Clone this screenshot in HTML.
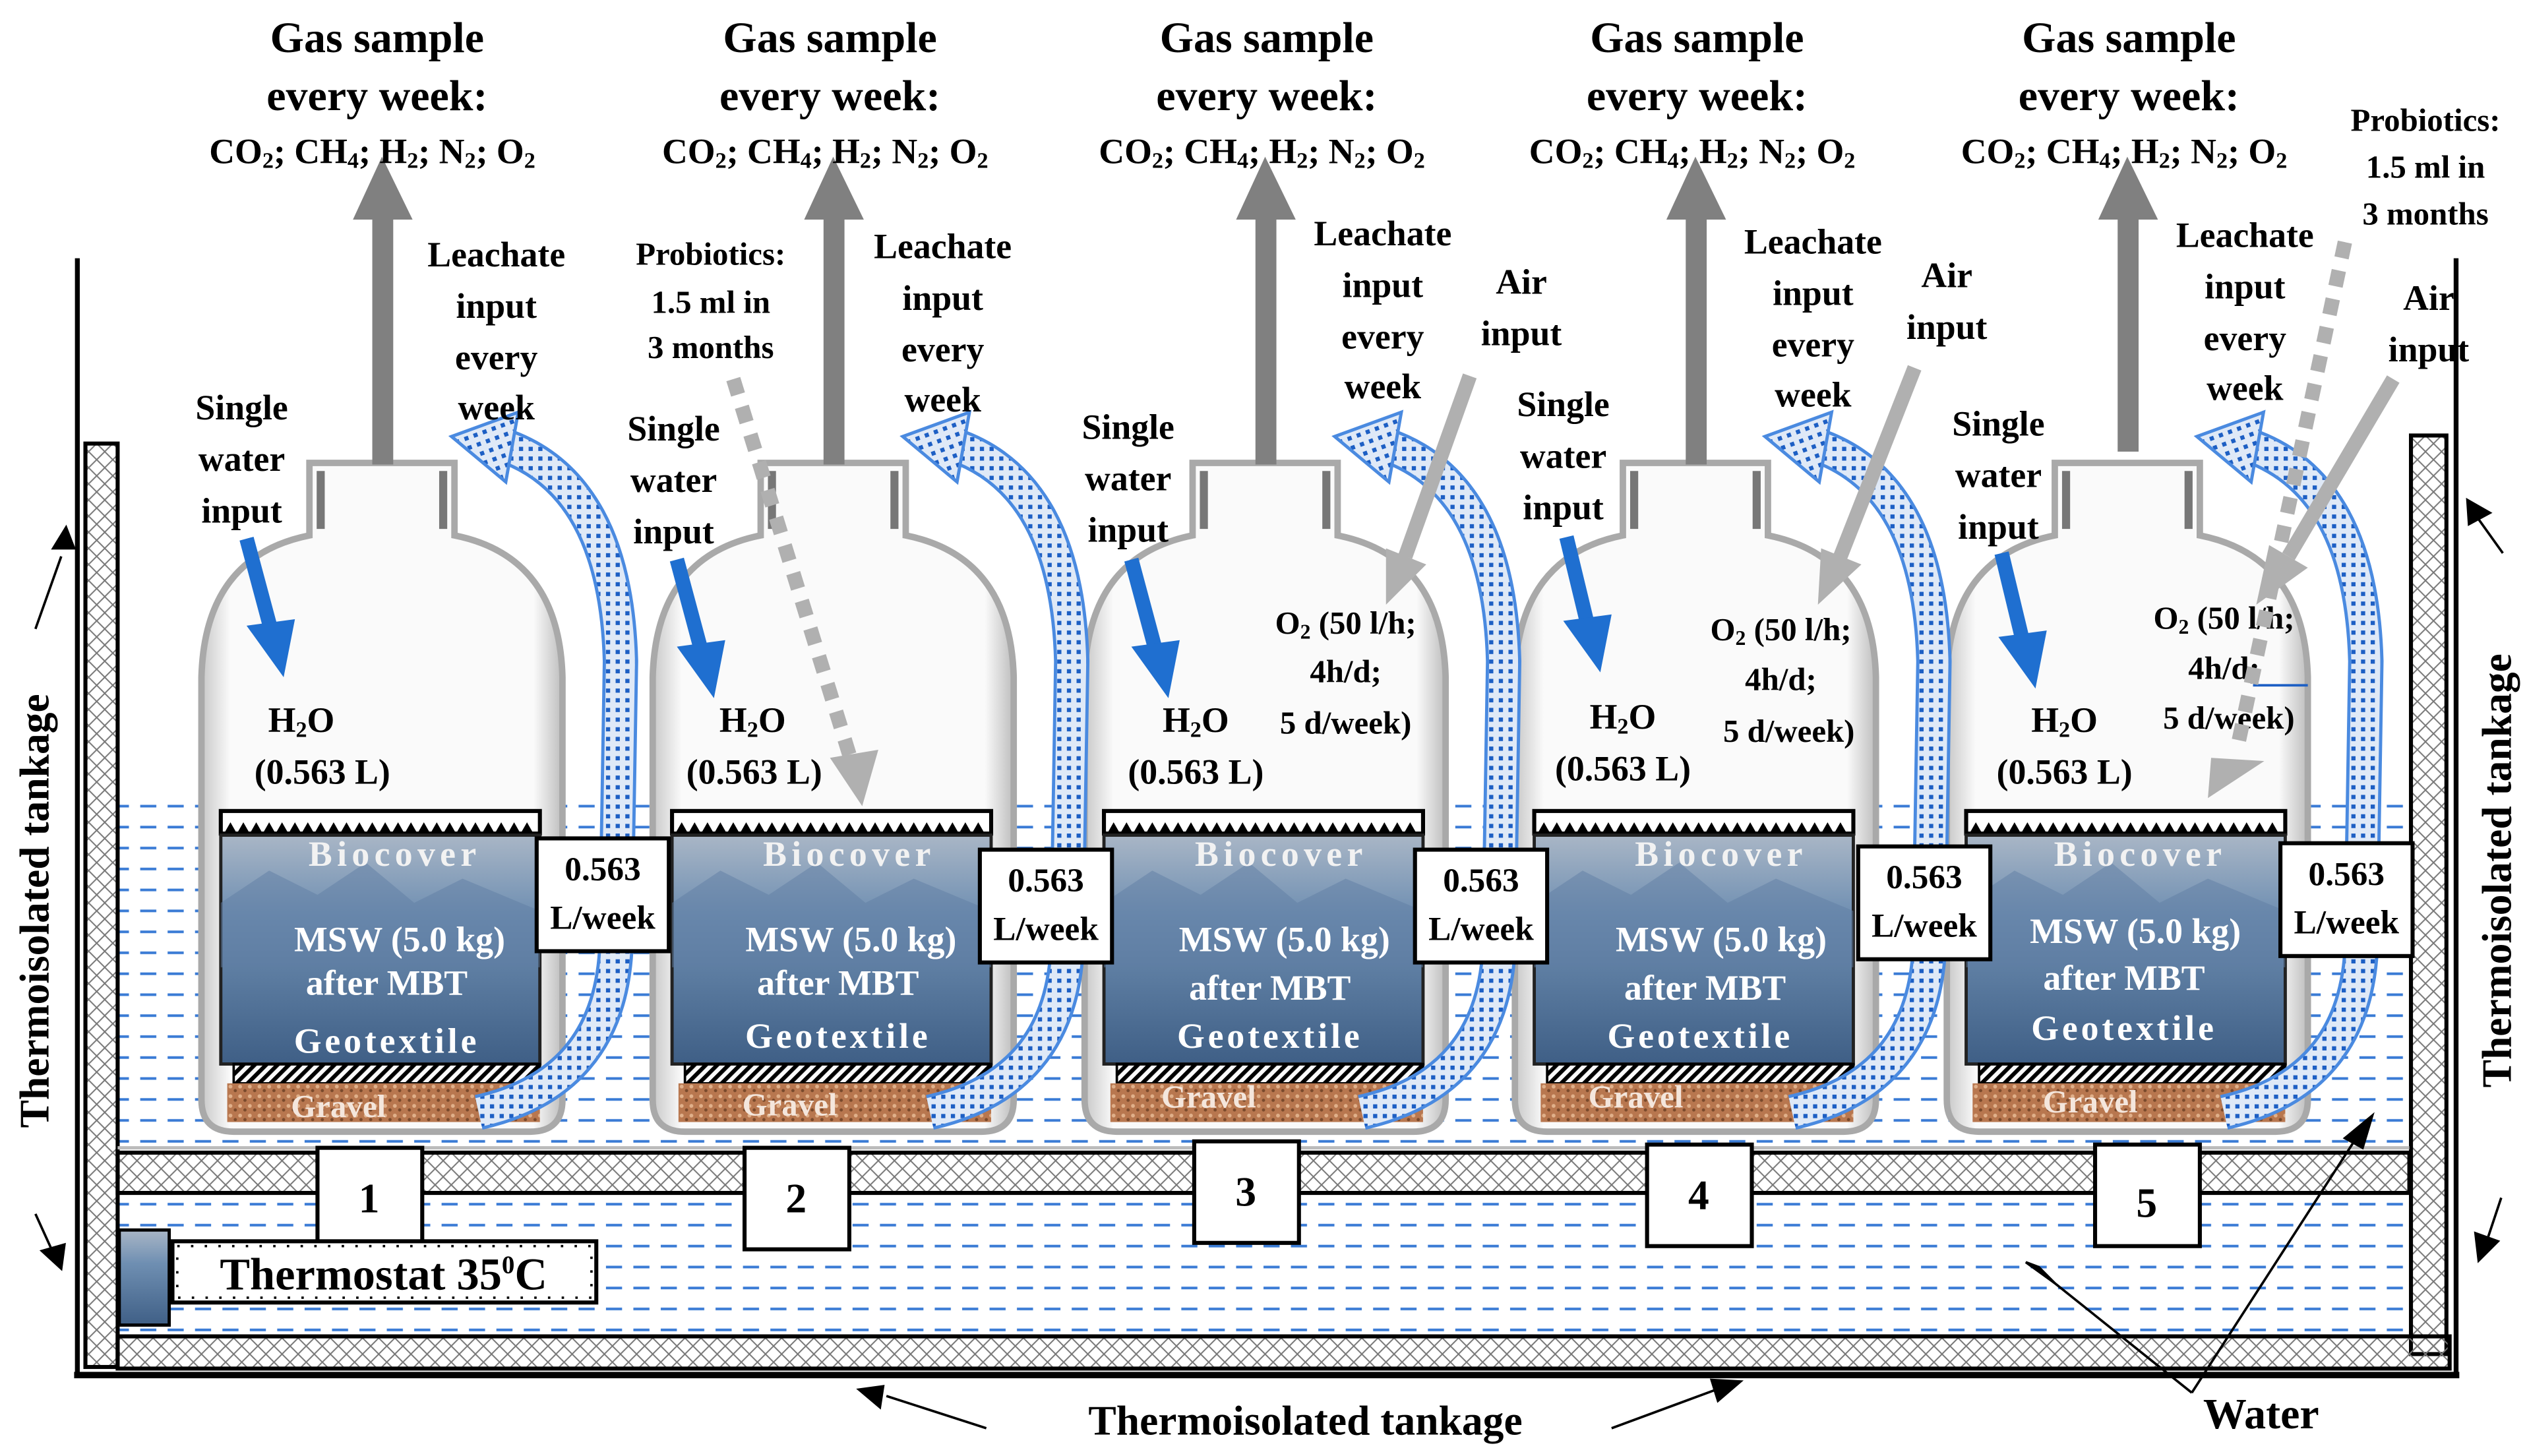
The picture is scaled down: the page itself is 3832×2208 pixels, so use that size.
<!DOCTYPE html>
<html><head><meta charset="utf-8"><style>
html,body{margin:0;padding:0;background:#fff;}
svg{display:block;}
text{font-family:"Liberation Serif",serif;font-weight:bold;fill:#000;}
</style></head><body>
<svg width="3832" height="2208" viewBox="0 0 1568 903" xmlns="http://www.w3.org/2000/svg">
<defs>
<pattern id="wat" width="17" height="13" patternUnits="userSpaceOnUse">
<line x1="2" y1="6" x2="12" y2="6" stroke="#3a7bd5" stroke-width="1.6"/>
</pattern>
<pattern id="hat" width="10" height="10" patternUnits="userSpaceOnUse">
<path d="M0,5 L5,0 L10,5 M0,5 L5,10 L10,5" stroke="#777" stroke-width="0.8" fill="none"/>
</pattern>
<pattern id="stripe" width="5" height="5" patternUnits="userSpaceOnUse" patternTransform="rotate(45)">
<rect width="2.5" height="5" fill="#000"/>
</pattern>
<pattern id="dots" width="6" height="6" patternUnits="userSpaceOnUse">
<rect width="6" height="6" fill="#dfe9f7"/><rect x="1" y="1" width="2.6" height="2.6" fill="#1d5fc4"/>
</pattern>
<pattern id="grav" width="6" height="6" patternUnits="userSpaceOnUse">
<rect width="6" height="6" fill="#b8774f"/><circle cx="2" cy="2" r="1.2" fill="#e0b08a"/><circle cx="5" cy="4.5" r="1" fill="#7a4a2c"/>
</pattern>
<linearGradient id="pan" x1="0" y1="0" x2="0" y2="1">
<stop offset="0" stop-color="#a9b6c6"/><stop offset="0.35" stop-color="#6f8fb2"/><stop offset="1" stop-color="#3f5f86"/>
</linearGradient>
<linearGradient id="glass" x1="0" y1="0" x2="1" y2="0">
<stop offset="0" stop-color="#c8c8c8"/><stop offset="0.08" stop-color="#fafafa"/><stop offset="0.92" stop-color="#fafafa"/><stop offset="1" stop-color="#bdbdbd"/>
</linearGradient>
<g id="bottle">
<path d="M-45,287 L45,287 L45,332 Q110,345 112,420 L112,682 Q112,702 92,702 L-92,702 Q-112,702 -112,682 L-112,420 Q-110,345 -45,332 Z" fill="url(#glass)" stroke="#a9a9a9" stroke-width="4"/>
<path d="M-38,292 L-38,328 M38,292 L38,328" stroke="#777" stroke-width="5"/>
<rect x="-100" y="503" width="198" height="14" fill="#fff" stroke="#000" stroke-width="2.5"/>
<path d="M-98,517 l4,-7 l4,7 l4,-7 l4,7 l4,-7 l4,7 l4,-7 l4,7 l4,-7 l4,7 l4,-7 l4,7 l4,-7 l4,7 l4,-7 l4,7 l4,-7 l4,7 l4,-7 l4,7 l4,-7 l4,7 l4,-7 l4,7 l4,-7 l4,7 l4,-7 l4,7 l4,-7 l4,7 l4,-7 l4,7 l4,-7 l4,7 l4,-7 l4,7 l4,-7 l4,7 l4,-7 l4,7 l4,-7 l4,7 l4,-7 l4,7 l4,-7 l4,7 l4,-7 l4,7" fill="#000"/>
<rect x="-100" y="518" width="198" height="142" fill="url(#pan)" stroke="#222" stroke-width="2"/>
<path d="M-100,560 L-70,540 L-40,555 L-10,535 L20,560 L50,545 L98,565 L98,600 L-100,600 Z" fill="#5f7ea3" opacity="0.5"/>
<rect x="-92" y="660" width="190" height="12" fill="url(#stripe)" stroke="#000" stroke-width="1.5"/>
<rect x="-96" y="672" width="194" height="24" fill="url(#grav)"/>
</g>
<g id="leach">
<path d="M60,690 Q140,672 145,590 L148,410 Q145,300 75,276" fill="none" stroke="#4a8ae0" stroke-width="22"/>
<path d="M60,690 Q140,672 145,590 L148,410 Q145,300 75,276" fill="none" stroke="url(#dots)" stroke-width="18"/>
<polygon points="48,262 92,262 70,300" fill="url(#dots)" stroke="#4a8ae0" stroke-width="2" transform="rotate(-20 70 280)"/>
</g>
</defs>

<!-- tank -->
<line x1="48" y1="160" x2="48" y2="854" stroke="#000" stroke-width="3"/>
<line x1="1524" y1="160" x2="1524" y2="854" stroke="#000" stroke-width="3"/>
<line x1="46" y1="853" x2="1526" y2="853" stroke="#000" stroke-width="4"/>
<rect x="73" y="495" width="1422" height="220" fill="url(#wat)"/>
<rect x="73" y="742" width="1422" height="85" fill="url(#wat)"/>
<rect x="53" y="275" width="20" height="573" fill="url(#hat)" stroke="#000" stroke-width="2.5"/>
<rect x="1496" y="270" width="22" height="570" fill="url(#hat)" stroke="#000" stroke-width="2.5"/>
<rect x="73" y="829" width="1447" height="20" fill="url(#hat)" stroke="#000" stroke-width="2.5"/>
<rect x="73" y="715" width="1422" height="25" fill="url(#hat)" stroke="#000" stroke-width="2.5"/>
<line x1="73" y1="712" x2="1495" y2="712" stroke="#bbb" stroke-width="2"/>

<!-- bottles -->
<use href="#bottle" x="237" y="0"/>
<use href="#bottle" x="517" y="0"/>
<use href="#bottle" x="785" y="0"/>
<use href="#bottle" x="1052" y="0"/>
<use href="#bottle" x="1320" y="0"/>
<use href="#leach" x="237"/>
<use href="#leach" x="517"/>
<use href="#leach" x="785"/>
<use href="#leach" x="1052"/>
<use href="#leach" x="1320"/>

<!-- panel texts -->
<g font-size="22" fill="#fff" text-anchor="middle" style="fill:#fff">
<text x="245" y="537" style="fill:#f2f2f2;letter-spacing:3px">Biocover</text>
<text x="248" y="590" style="fill:#fff">MSW (5.0 kg)</text>
<text x="240" y="617" style="fill:#fff">after MBT</text>
<text x="240" y="653" style="fill:#fff;letter-spacing:2px">Geotextile</text>
<text x="210" y="693" font-size="20" style="fill:#f4e6dc">Gravel</text>
<text x="527" y="537" style="fill:#f2f2f2;letter-spacing:3px">Biocover</text>
<text x="528" y="590" style="fill:#fff">MSW (5.0 kg)</text>
<text x="520" y="617" style="fill:#fff">after MBT</text>
<text x="520" y="650" style="fill:#fff;letter-spacing:2px">Geotextile</text>
<text x="490" y="692" font-size="20" style="fill:#f4e6dc">Gravel</text>
<text x="795" y="537" style="fill:#f2f2f2;letter-spacing:3px">Biocover</text>
<text x="797" y="590" style="fill:#fff">MSW (5.0 kg)</text>
<text x="788" y="620" style="fill:#fff">after MBT</text>
<text x="788" y="650" style="fill:#fff;letter-spacing:2px">Geotextile</text>
<text x="750" y="687" font-size="20" style="fill:#f4e6dc">Gravel</text>
<text x="1068" y="537" style="fill:#f2f2f2;letter-spacing:3px">Biocover</text>
<text x="1068" y="590" style="fill:#fff">MSW (5.0 kg)</text>
<text x="1058" y="620" style="fill:#fff">after MBT</text>
<text x="1055" y="650" style="fill:#fff;letter-spacing:2px">Geotextile</text>
<text x="1015" y="687" font-size="20" style="fill:#f4e6dc">Gravel</text>
<text x="1328" y="537" style="fill:#f2f2f2;letter-spacing:3px">Biocover</text>
<text x="1325" y="585" style="fill:#fff">MSW (5.0 kg)</text>
<text x="1318" y="614" style="fill:#fff">after MBT</text>
<text x="1318" y="645" style="fill:#fff;letter-spacing:2px">Geotextile</text>
<text x="1297" y="690" font-size="20" style="fill:#f4e6dc">Gravel</text>
</g>

<!-- L/week boxes -->
<g font-size="21" text-anchor="middle">
<rect x="333" y="520" width="82" height="70" fill="#fff" stroke="#000" stroke-width="2.5"/>
<text x="374" y="546">0.563</text><text x="374" y="576">L/week</text>
<rect x="608" y="527" width="82" height="70" fill="#fff" stroke="#000" stroke-width="2.5"/>
<text x="649" y="553">0.563</text><text x="649" y="583">L/week</text>
<rect x="878" y="527" width="82" height="70" fill="#fff" stroke="#000" stroke-width="2.5"/>
<text x="919" y="553">0.563</text><text x="919" y="583">L/week</text>
<rect x="1153" y="525" width="82" height="70" fill="#fff" stroke="#000" stroke-width="2.5"/>
<text x="1194" y="551">0.563</text><text x="1194" y="581">L/week</text>
<rect x="1415" y="523" width="82" height="70" fill="#fff" stroke="#000" stroke-width="2.5"/>
<text x="1456" y="549">0.563</text><text x="1456" y="579">L/week</text>
</g>

<!-- number boxes -->
<g font-size="26" text-anchor="middle">
<rect x="197" y="712" width="65" height="63" fill="#fff" stroke="#000" stroke-width="2.5"/><text x="229" y="752">1</text>
<rect x="462" y="712" width="65" height="63" fill="#fff" stroke="#000" stroke-width="2.5"/><text x="494" y="752">2</text>
<rect x="741" y="708" width="65" height="63" fill="#fff" stroke="#000" stroke-width="2.5"/><text x="773" y="748">3</text>
<rect x="1022" y="710" width="65" height="63" fill="#fff" stroke="#000" stroke-width="2.5"/><text x="1054" y="750">4</text>
<rect x="1300" y="710" width="65" height="63" fill="#fff" stroke="#000" stroke-width="2.5"/><text x="1332" y="755">5</text>
</g>

<!-- thermostat -->
<rect x="74" y="763" width="31" height="59" fill="url(#pan)" stroke="#000" stroke-width="2"/>
<rect x="107" y="770" width="263" height="38" fill="#fff" stroke="#000" stroke-width="2.5"/>
<rect x="110" y="773" width="257" height="32" fill="none" stroke="#000" stroke-width="1.5" stroke-dasharray="1.5 7"/>
<text x="238" y="800" font-size="28" text-anchor="middle">Thermostat 35<tspan font-size="16" dy="-10">0</tspan><tspan dy="10">C</tspan></text>

<!-- gas arrows and text -->
<g fill="#808080">
<rect x="231" y="130" width="13" height="158"/><polygon points="219,136 256,136 237,97"/>
<rect x="511" y="130" width="13" height="158"/><polygon points="499,136 536,136 517,97"/>
<rect x="779" y="130" width="13" height="158"/><polygon points="767,136 804,136 785,97"/>
<rect x="1046" y="130" width="13" height="158"/><polygon points="1034,136 1071,136 1052,97"/>
<rect x="1314" y="130" width="13" height="150"/><polygon points="1302,136 1339,136 1320,97"/>
</g>
<g text-anchor="middle">
<g font-size="27">
<text x="234" y="32">Gas sample</text><text x="234" y="68">every week:</text>
<text x="515" y="32">Gas sample</text><text x="515" y="68">every week:</text>
<text x="786" y="32">Gas sample</text><text x="786" y="68">every week:</text>
<text x="1053" y="32">Gas sample</text><text x="1053" y="68">every week:</text>
<text x="1321" y="32">Gas sample</text><text x="1321" y="68">every week:</text>
</g>
<g font-size="22">
<text x="231" y="101">CO<tspan font-size="14" dy="3">2</tspan><tspan dy="-3">; CH</tspan><tspan font-size="14" dy="3">4</tspan><tspan dy="-3">; H</tspan><tspan font-size="14" dy="3">2</tspan><tspan dy="-3">; N</tspan><tspan font-size="14" dy="3">2</tspan><tspan dy="-3">; O</tspan><tspan font-size="14" dy="3">2</tspan></text>
<text x="512" y="101">CO<tspan font-size="14" dy="3">2</tspan><tspan dy="-3">; CH</tspan><tspan font-size="14" dy="3">4</tspan><tspan dy="-3">; H</tspan><tspan font-size="14" dy="3">2</tspan><tspan dy="-3">; N</tspan><tspan font-size="14" dy="3">2</tspan><tspan dy="-3">; O</tspan><tspan font-size="14" dy="3">2</tspan></text>
<text x="783" y="101">CO<tspan font-size="14" dy="3">2</tspan><tspan dy="-3">; CH</tspan><tspan font-size="14" dy="3">4</tspan><tspan dy="-3">; H</tspan><tspan font-size="14" dy="3">2</tspan><tspan dy="-3">; N</tspan><tspan font-size="14" dy="3">2</tspan><tspan dy="-3">; O</tspan><tspan font-size="14" dy="3">2</tspan></text>
<text x="1050" y="101">CO<tspan font-size="14" dy="3">2</tspan><tspan dy="-3">; CH</tspan><tspan font-size="14" dy="3">4</tspan><tspan dy="-3">; H</tspan><tspan font-size="14" dy="3">2</tspan><tspan dy="-3">; N</tspan><tspan font-size="14" dy="3">2</tspan><tspan dy="-3">; O</tspan><tspan font-size="14" dy="3">2</tspan></text>
<text x="1318" y="101">CO<tspan font-size="14" dy="3">2</tspan><tspan dy="-3">; CH</tspan><tspan font-size="14" dy="3">4</tspan><tspan dy="-3">; H</tspan><tspan font-size="14" dy="3">2</tspan><tspan dy="-3">; N</tspan><tspan font-size="14" dy="3">2</tspan><tspan dy="-3">; O</tspan><tspan font-size="14" dy="3">2</tspan></text>
</g>

<!-- leachate labels -->
<g font-size="22">
<text x="308" y="165">Leachate</text><text x="308" y="197">input</text><text x="308" y="229">every</text><text x="308" y="260">week</text>
<text x="585" y="160">Leachate</text><text x="585" y="192">input</text><text x="585" y="224">every</text><text x="585" y="255">week</text>
<text x="858" y="152">Leachate</text><text x="858" y="184">input</text><text x="858" y="216">every</text><text x="858" y="247">week</text>
<text x="1125" y="157">Leachate</text><text x="1125" y="189">input</text><text x="1125" y="221">every</text><text x="1125" y="252">week</text>
<text x="1393" y="153">Leachate</text><text x="1393" y="185">input</text><text x="1393" y="217">every</text><text x="1393" y="248">week</text>
</g>

<!-- single water input -->
<g font-size="22">
<text x="150" y="260">Single</text><text x="150" y="292">water</text><text x="150" y="324">input</text>
<text x="418" y="273">Single</text><text x="418" y="305">water</text><text x="418" y="337">input</text>
<text x="700" y="272">Single</text><text x="700" y="304">water</text><text x="700" y="336">input</text>
<text x="970" y="258">Single</text><text x="970" y="290">water</text><text x="970" y="322">input</text>
<text x="1240" y="270">Single</text><text x="1240" y="302">water</text><text x="1240" y="334">input</text>
</g>
<g font-size="22">
<text x="187" y="454">H<tspan font-size="14" dy="3">2</tspan><tspan dy="-3">O</tspan></text><text x="200" y="486">(0.563 L)</text>
<text x="467" y="454">H<tspan font-size="14" dy="3">2</tspan><tspan dy="-3">O</tspan></text><text x="468" y="486">(0.563 L)</text>
<text x="742" y="454">H<tspan font-size="14" dy="3">2</tspan><tspan dy="-3">O</tspan></text><text x="742" y="486">(0.563 L)</text>
<text x="1007" y="452">H<tspan font-size="14" dy="3">2</tspan><tspan dy="-3">O</tspan></text><text x="1007" y="484">(0.563 L)</text>
<text x="1281" y="454">H<tspan font-size="14" dy="3">2</tspan><tspan dy="-3">O</tspan></text><text x="1281" y="486">(0.563 L)</text>
</g>

<!-- probiotics -->
<g font-size="20">
<text x="441" y="164">Probiotics:</text><text x="441" y="194">1.5 ml in</text><text x="441" y="222">3 months</text>
<text x="1505" y="81">Probiotics:</text><text x="1505" y="110">1.5 ml in</text><text x="1505" y="139">3 months</text>
</g>
<!-- air input -->
<g font-size="22">
<text x="944" y="182">Air</text><text x="944" y="214">input</text>
<text x="1208" y="178">Air</text><text x="1208" y="210">input</text>
<text x="1507" y="192">Air</text><text x="1507" y="224">input</text>
</g>
<!-- O2 -->
<g font-size="20">
<text x="835" y="393">O<tspan font-size="13" dy="3">2</tspan><tspan dy="-3"> (50 l/h;</tspan></text><text x="835" y="423">4h/d;</text><text x="835" y="455">5 d/week)</text>
<text x="1105" y="397">O<tspan font-size="13" dy="3">2</tspan><tspan dy="-3"> (50 l/h;</tspan></text><text x="1105" y="428">4h/d;</text><text x="1110" y="460">5 d/week)</text>
<text x="1380" y="390">O<tspan font-size="13" dy="3">2</tspan><tspan dy="-3"> (50 l/h;</tspan></text><text x="1380" y="421">4h/d;</text><text x="1383" y="452">5 d/week)</text>
</g>
</g>
<line x1="1398" y1="425" x2="1432" y2="425" stroke="#1d5fc4" stroke-width="1.5"/>

<!-- blue water arrows -->
<g stroke="#1f6fd0" stroke-width="9" fill="#1f6fd0">
<line x1="153" y1="334" x2="168" y2="390"/><polygon points="153,388 183,384 176,420" stroke="none"/>
<line x1="420" y1="347" x2="435" y2="403"/><polygon points="420,401 450,397 443,433" stroke="none"/>
<line x1="702" y1="347" x2="717" y2="403"/><polygon points="702,401 732,397 725,433" stroke="none"/>
<line x1="972" y1="333" x2="985" y2="387"/><polygon points="970,385 1000,381 993,417" stroke="none"/>
<line x1="1242" y1="343" x2="1255" y2="397"/><polygon points="1240,395 1270,391 1263,427" stroke="none"/>
</g>
<!-- air arrows -->
<g stroke="#b0b0b0" stroke-width="9" fill="#b0b0b0">
<line x1="912" y1="233" x2="872" y2="345"/><polygon points="860,340 885,350 860,375" stroke="none"/>
<line x1="1188" y1="228" x2="1142" y2="345"/><polygon points="1130,340 1155,350 1128,375" stroke="none"/>
<line x1="1485" y1="235" x2="1420" y2="345"/><polygon points="1408,338 1432,352 1400,375" stroke="none"/>
</g>
<!-- probiotic dashed arrows -->
<g stroke="#b0b0b0" stroke-width="9" stroke-dasharray="10 8" fill="none">
<line x1="455" y1="235" x2="527" y2="468"/>
<line x1="1455" y1="150" x2="1388" y2="465"/>
</g>
<polygon points="515,470 545,465 535,500" fill="#b0b0b0"/>
<polygon points="1372,470 1405,472 1370,495" fill="#b0b0b0"/>

<!-- thermoisolated labels -->
<text x="0" y="0" font-size="26" transform="translate(30,565) rotate(-90)" text-anchor="middle">Thermoisolated tankage</text>
<text x="0" y="0" font-size="26" transform="translate(1558,540) rotate(-90)" text-anchor="middle">Thermoisolated tankage</text>
<text x="810" y="890" font-size="26" text-anchor="middle">Thermoisolated tankage</text>
<text x="1403" y="886" font-size="27" text-anchor="middle">Water</text>
<g stroke="#000" stroke-width="1.5" fill="#000">
<line x1="22" y1="390" x2="38" y2="345"/><polygon points="33,340 46,340 41,327"/>
<line x1="22" y1="753" x2="32" y2="775"/><polygon points="26,776 40,772 38,787"/>
<line x1="1553" y1="343" x2="1538" y2="322"/><polygon points="1532,325 1545,318 1531,310"/>
<line x1="1552" y1="743" x2="1543" y2="770"/><polygon points="1536,765 1550,770 1538,782"/>
<line x1="612" y1="886" x2="550" y2="866"/><polygon points="548,860 546,873 533,862"/>
<line x1="1000" y1="886" x2="1065" y2="862"/><polygon points="1062,856 1066,869 1080,857"/>
<line x1="1360" y1="864" x2="1270" y2="792"/><polygon points="1265,786 1275,796 1257,783"/>
<line x1="1360" y1="864" x2="1462" y2="706"/><polygon points="1455,706 1466,712 1472,692"/>
</g>
</svg>
</body></html>
